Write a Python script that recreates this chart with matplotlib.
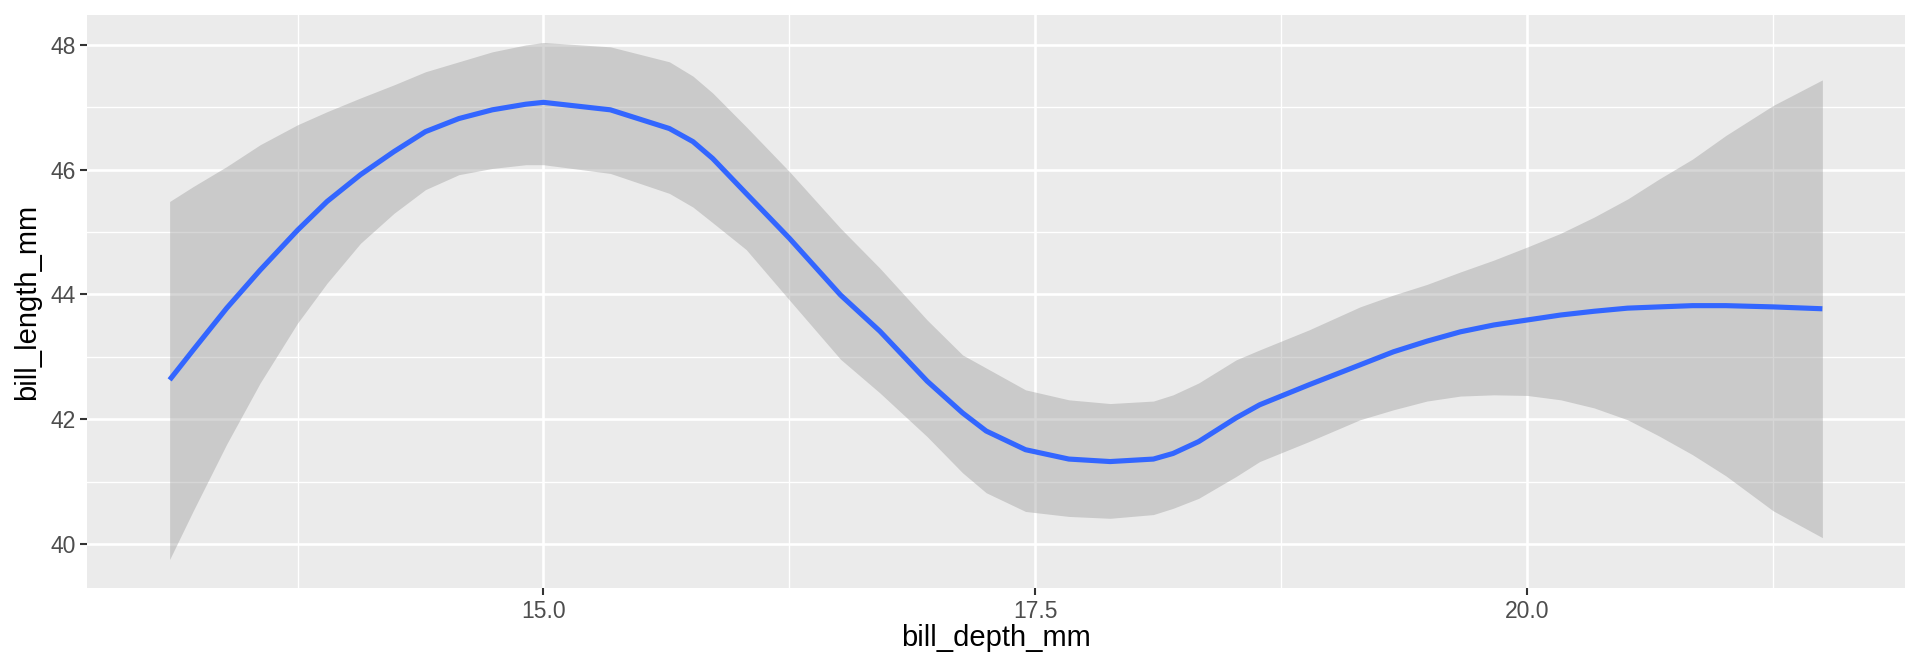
import matplotlib
matplotlib.use("Agg")
import matplotlib.pyplot as plt
from matplotlib.ticker import FixedLocator, FormatStrFormatter

plt.rcParams['font.family'] = ['Liberation Sans', 'DejaVu Sans']

# bill_depth_mm grid of the loess smooth
depth = [13.10, 13.22, 13.39, 13.56, 13.75, 13.90, 14.07, 14.24, 14.40, 14.57,
         14.74, 14.91, 15.00, 15.34, 15.64, 15.76, 15.86, 16.03, 16.25, 16.51,
         16.71, 16.95, 17.13, 17.25, 17.45, 17.67, 17.88, 18.10, 18.20, 18.33,
         18.52, 18.64, 18.89, 19.15, 19.32, 19.49, 19.66, 19.83, 20.00, 20.17,
         20.34, 20.51, 20.67, 20.84, 21.01, 21.25, 21.50]
# fitted bill_length_mm
fit = [42.63, 43.11, 43.78, 44.39, 45.03, 45.49, 45.92, 46.29, 46.61, 46.82,
       46.96, 47.05, 47.08, 46.96, 46.66, 46.45, 46.18, 45.62, 44.90, 43.99,
       43.41, 42.61, 42.10, 41.81, 41.51, 41.36, 41.32, 41.36, 41.45, 41.64,
       42.02, 42.23, 42.55, 42.87, 43.08, 43.25, 43.40, 43.51, 43.59, 43.67,
       43.73, 43.78, 43.80, 43.82, 43.82, 43.80, 43.77]
# confidence band
lower = [39.75, 40.53, 41.60, 42.58, 43.54, 44.18, 44.82, 45.30, 45.68, 45.92,
         46.02, 46.08, 46.08, 45.94, 45.62, 45.40, 45.15, 44.72, 43.91, 42.96,
         42.42, 41.72, 41.14, 40.82, 40.52, 40.44, 40.41, 40.47, 40.57, 40.73,
         41.08, 41.32, 41.64, 41.99, 42.15, 42.29, 42.37, 42.39, 42.38, 42.31,
         42.18, 41.99, 41.73, 41.43, 41.09, 40.53, 40.10]
upper = [45.49, 45.73, 46.05, 46.40, 46.72, 46.93, 47.15, 47.36, 47.57, 47.73,
         47.89, 48.00, 48.04, 47.97, 47.73, 47.50, 47.23, 46.69, 45.97, 45.06,
         44.42, 43.59, 43.03, 42.82, 42.47, 42.31, 42.25, 42.29, 42.39, 42.58,
         42.95, 43.11, 43.43, 43.80, 43.99, 44.16, 44.36, 44.55, 44.76, 44.98,
         45.24, 45.53, 45.85, 46.17, 46.55, 47.03, 47.44]

x_ticks = [15.0, 17.5, 20.0]
x_minor = [13.75, 16.25, 18.75, 21.25]
y_ticks = [40, 42, 44, 46, 48]
y_minor = [39, 41, 43, 45, 47]

fig = plt.figure(figsize=(19.2, 6.72), dpi=100)
ax = fig.add_axes([87/1920, 1 - 588.4/672, (1905 - 87)/1920, (588.4 - 14.6)/672])
ax.set_facecolor('#EBEBEB')
for s in ax.spines.values():
    s.set_visible(False)

ax.xaxis.set_major_locator(FixedLocator(x_ticks))
ax.xaxis.set_minor_locator(FixedLocator(x_minor))
ax.yaxis.set_major_locator(FixedLocator(y_ticks))
ax.yaxis.set_minor_locator(FixedLocator(y_minor))
ax.xaxis.set_major_formatter(FormatStrFormatter('%.1f'))
ax.yaxis.set_major_formatter(FormatStrFormatter('%d'))

ax.grid(which='major', color='white', linewidth=1.9)
ax.grid(which='minor', color='white', linewidth=0.95)
ax.set_axisbelow(True)

ax.fill_between(depth, lower, upper, color='#999999', alpha=0.4, linewidth=0, zorder=2)
ax.plot(depth, fit, color='#3366FF', linewidth=3.7, zorder=3,
        solid_capstyle='butt', solid_joinstyle='round')

ax.set_xlim(12.68, 21.92)
ax.set_ylim(39.286, 48.487)

ax.tick_params(which='major', length=5, width=1.5, color='#333333',
               labelsize=16.5, labelcolor='#4D4D4D', pad=3)
ax.tick_params(which='minor', length=0)

ax.set_xlabel('bill_depth_mm', fontsize=21, color='black')
ax.set_ylabel('bill_length_mm', fontsize=21, color='black')
ax.xaxis.set_label_coords(0.5, (588.4 - 624) / 573.8)
ax.yaxis.set_label_coords((41 - 87) / 1818, 0.5)

fig.savefig('out.png', dpi=100)
